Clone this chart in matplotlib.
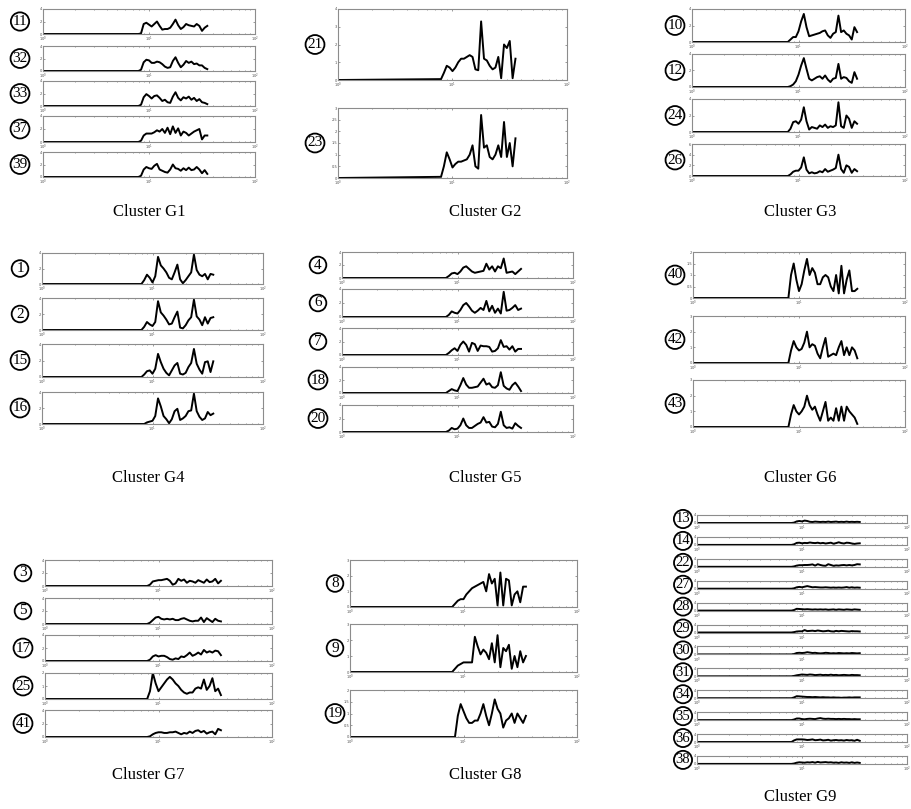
import matplotlib
matplotlib.use("Agg")
import matplotlib.pyplot as plt
from matplotlib.ticker import LogLocator, NullFormatter, FixedLocator

# frequency grid (shared by all curves), log axis 10^0 .. 10^2
freq = [1.0, 7.94, 8.41, 8.91, 9.44, 10.0, 10.59, 11.22, 11.89, 12.59, 13.34, 14.13,
        14.96, 15.85, 16.79, 17.78, 18.84, 19.95, 21.13, 22.39, 23.71, 25.12, 26.61,
        28.18, 29.85, 31.62, 33.5, 35.48]

# Cluster G1
s11 = [0, 0, 0.1, 1.6, 1.8, 1.5, 1.2, 1.6, 2.0, 1.3, 0.7, 0.8, 0.8, 1.0, 1.6, 2.3, 1.4, 0.8, 1.1, 1.6, 1.4, 1.3, 1.2, 1.6, 1.3, 0.5, 1.0, 1.3]
s32 = [0, 0, 0.2, 1.4, 1.8, 1.7, 1.3, 1.3, 1.5, 1.4, 1.1, 0.7, 0.5, 0.6, 1.6, 2.2, 1.3, 0.6, 1.0, 1.6, 1.3, 1.5, 1.1, 1.2, 0.9, 0.9, 0.5, 0.3]
s33 = [0, 0, 0.2, 1.4, 1.9, 1.6, 1.2, 1.6, 1.7, 1.3, 0.8, 1.0, 0.6, 0.5, 1.5, 2.2, 1.3, 0.9, 1.4, 1.2, 1.5, 1.0, 1.3, 0.8, 1.1, 0.6, 0.5, 0.3]
s37 = [0, 0, 0.2, 1.0, 1.3, 1.3, 1.3, 1.5, 1.8, 1.6, 2.0, 1.4, 2.2, 1.2, 2.4, 1.4, 2.1, 1.0, 1.6, 1.4, 1.0, 1.3, 1.6, 1.8, 2.0, 0.4, 1.0, 1.0]
s39 = [0, 0, 0.2, 1.2, 1.6, 1.4, 1.3, 1.8, 2.1, 1.2, 1.0, 0.8, 0.7, 1.2, 2.0, 1.4, 1.3, 1.0, 1.4, 1.1, 1.5, 1.1, 1.2, 1.6, 1.2, 0.6, 1.1, 0.5]

# Cluster G2
s21 = [0, 0.05, 0.4, 0.8, 0.7, 0.5, 0.7, 1.0, 1.2, 1.2, 1.3, 1.4, 1.3, 0.6, 0.55, 3.3, 1.2, 1.1, 0.8, 0.6, 0.7, 1.3, 0.1, 2.0, 1.8, 2.2, 0.1, 1.2]
s23 = [0, 0.05, 0.5, 1.1, 0.8, 0.45, 0.6, 0.7, 0.7, 0.75, 0.8, 1.0, 1.4, 0.5, 0.4, 2.7, 1.3, 1.4, 0.9, 0.8, 1.0, 1.4, 0.9, 2.4, 0.9, 1.5, 0.5, 1.7]

# Cluster G3
s10 = [0, 0, 0.3, 0.6, 0.6, 1.3, 2.5, 3.4, 1.8, 0.7, 0.8, 0.9, 1.0, 1.1, 1.3, 1.4, 0.8, 0.5, 1.0, 1.2, 3.2, 1.2, 1.4, 1.0, 0.8, 0.3, 1.8, 1.2]
s12 = [0, 0, 0.1, 0.3, 0.7, 1.5, 2.6, 3.5, 2.2, 1.0, 0.8, 1.0, 1.2, 1.3, 1.0, 1.4, 0.9, 0.6, 1.0, 1.1, 2.8, 1.0, 1.2, 1.1, 0.7, 0.5, 1.8, 1.0]
s24 = [0, 0, 0.4, 1.2, 1.3, 1.0, 1.5, 3.0, 1.3, 0.3, 0.6, 0.5, 0.4, 0.8, 0.6, 0.9, 0.5, 0.7, 0.6, 0.8, 3.6, 0.7, 0.5, 2.0, 1.6, 0.5, 1.3, 1.0]
s26 = [0, 0, 0.3, 0.8, 1.0, 1.0, 1.6, 3.5, 1.2, 0.5, 0.7, 0.5, 0.6, 0.9, 0.7, 1.3, 0.8, 1.0, 1.2, 1.5, 4.0, 1.3, 0.6, 2.0, 1.7, 0.6, 1.3, 0.9]

# Cluster G4
s1 = [0, 0, 0.5, 1.2, 0.8, 0.2, 1.0, 3.5, 2.4, 2.0, 1.5, 0.8, 0.6, 1.5, 2.5, 0.6, 0.1, 0.5, 1.0, 1.5, 3.8, 1.8, 1.2, 1.0, 1.3, 0.6, 1.3, 1.2]
s2 = [0, 0, 0.4, 1.0, 0.7, 0.5, 1.0, 3.6, 2.2, 1.8, 1.3, 0.7, 0.8, 1.6, 2.3, 0.3, 0.2, 0.6, 1.2, 1.6, 3.8, 1.7, 1.3, 0.6, 1.6, 0.8, 1.5, 1.6]
s15 = [0, 0, 0.3, 0.7, 0.8, 0.4, 1.0, 2.8, 1.8, 1.0, 0.5, 0.2, 0.8, 1.4, 1.7, 0.4, 0.3, 0.5, 1.2, 1.7, 3.4, 1.6, 0.9, 0.4, 1.8, 1.9, 0.6, 1.9]
s16 = [0, 0, 0.0, 0.2, 0.3, 0.4, 1.0, 3.2, 2.2, 1.0, 0.6, 0.1, 0.6, 1.6, 1.9, 0.5, 0.7, 1.0, 1.6, 1.7, 3.8, 1.6, 0.9, 0.5, 0.7, 1.5, 1.1, 1.3]

# Cluster G5
s4 = [0, 0, 0.3, 0.7, 0.8, 0.6, 1.0, 1.6, 1.8, 1.4, 1.0, 0.8, 0.9, 1.0, 1.1, 2.2, 1.3, 1.8, 1.0, 1.8, 1.5, 3.0, 0.8, 0.9, 1.0, 0.6, 1.0, 1.4]
s6 = [0, 0, 0.3, 0.8, 0.6, 0.5, 1.0, 1.7, 2.0, 1.5, 0.9, 0.6, 0.9, 1.3, 1.0, 2.3, 0.8, 1.6, 0.6, 1.2, 0.5, 3.6, 0.9, 1.0, 1.3, 1.7, 1.0, 1.2]
s7 = [0, 0, 0.3, 0.7, 1.0, 0.6, 1.5, 2.0, 1.5, 0.5, 1.8, 1.6, 0.6, 1.4, 1.3, 1.3, 1.2, 0.5, 0.6, 1.0, 2.2, 1.2, 1.3, 0.8, 1.3, 0.5, 0.9, 0.9]
s18 = [0, 0, 0.3, 0.6, 0.4, 0.3, 1.2, 2.3, 1.3, 0.8, 0.8, 0.9, 1.0, 1.6, 2.2, 1.3, 1.5, 0.9, 0.8, 1.2, 3.2, 1.1, 0.7, 0.5, 1.2, 1.6, 1.0, 0.3]
s20 = [0, 0, 0.2, 0.6, 0.4, 0.5, 1.0, 2.0, 1.0, 0.6, 0.6, 0.9, 1.2, 1.4, 2.2, 1.4, 1.5, 0.8, 0.7, 1.2, 3.0, 1.0, 0.6, 0.7, 0.5, 1.3, 0.9, 0.6]

# Cluster G6
s40 = [0, 0, 1.0, 1.5, 0.8, 0.3, 0.6, 1.2, 1.7, 1.0, 1.3, 1.1, 0.6, 0.6, 0.9, 1.0, 0.9, 0.5, 0.3, 1.0, 0.2, 1.4, 0.2, 0.8, 1.2, 0.3, 0.3, 0.4]
s42 = [0, 0, 0.8, 1.4, 1.0, 0.8, 0.9, 1.3, 2.0, 1.0, 1.2, 1.1, 0.6, 0.3, 1.0, 1.6, 0.4, 0.5, 0.6, 0.5, 1.0, 1.4, 0.5, 1.0, 0.5, 1.0, 0.8, 0.3]
s43 = [0, 0, 0.8, 1.4, 1.0, 0.8, 1.0, 1.3, 2.0, 1.4, 1.1, 1.3, 0.8, 0.4, 1.0, 1.6, 0.4, 0.6, 0.4, 1.2, 0.4, 1.3, 0.4, 1.3, 1.0, 0.8, 0.6, 0.2]

# Cluster G7
s3 = [0, 0, 0.2, 0.7, 0.8, 0.9, 0.9, 1.0, 1.1, 0.8, 0.2, 0.4, 1.1, 0.8, 1.0, 0.5, 0.8, 0.7, 0.5, 0.9, 0.7, 0.5, 1.0, 0.6, 0.7, 1.1, 0.4, 0.8]
s5 = [0, 0, 0.2, 0.6, 1.0, 1.1, 0.8, 0.7, 0.8, 0.7, 0.8, 0.6, 0.6, 0.8, 0.9, 0.7, 0.5, 0.4, 0.5, 0.5, 1.0, 0.3, 0.9, 0.6, 0.3, 0.8, 0.5, 0.4]
s17 = [0, 0, 0.2, 0.7, 0.9, 0.7, 0.8, 0.8, 0.6, 0.3, 0.2, 0.4, 0.3, 0.7, 0.6, 0.9, 1.3, 0.8, 1.0, 1.3, 1.0, 1.7, 1.3, 1.5, 1.3, 1.6, 1.5, 0.9]
s25 = [0, 0, 0.6, 2.0, 1.2, 0.6, 0.9, 1.2, 1.5, 1.7, 1.5, 1.2, 1.0, 0.7, 0.5, 0.4, 0.5, 0.5, 0.8, 0.9, 0.8, 1.5, 0.7, 1.0, 1.6, 0.6, 0.8, 0.3]
s41 = [0, 0, 0.1, 0.4, 0.6, 0.7, 0.7, 0.6, 0.6, 0.7, 0.7, 0.8, 0.6, 0.4, 0.6, 0.5, 0.8, 0.6, 0.9, 1.0, 0.7, 0.9, 0.5, 0.7, 0.8, 0.4, 1.2, 1.0]

# Cluster G8
s8 = [0, 0, 0.2, 0.4, 0.5, 0.5, 0.8, 1.0, 1.2, 1.3, 1.4, 1.5, 1.6, 1.0, 2.1, 1.5, 1.8, 0.1, 2.2, 0.1, 1.8, 1.7, 0.1, 0.8, 1.0, 0.3, 1.3, 1.3]
s9 = [0, 0, 0.2, 0.4, 0.5, 0.6, 0.6, 0.6, 0.6, 2.2, 1.6, 1.1, 1.4, 1.2, 0.8, 1.8, 0.6, 2.3, 0.3, 1.5, 1.3, 1.7, 0.2, 1.0, 0.3, 1.3, 0.6, 1.0]
s19 = [0, 0, 0.0, 0.9, 1.4, 1.1, 0.8, 0.6, 0.6, 0.7, 0.7, 1.0, 1.4, 0.9, 0.5, 1.0, 1.6, 1.2, 1.0, 0.4, 0.7, 0.8, 1.0, 0.6, 1.0, 0.8, 0.6, 0.9]

# Cluster G9
s13 = [0, 0, 0.2, 0.8, 1.0, 0.8, 1.2, 1.0, 0.6, 0.5, 0.7, 0.6, 0.5, 0.6, 0.5, 0.7, 0.5, 0.6, 0.7, 0.5, 0.6, 0.5, 0.7, 0.5, 0.6, 0.5, 0.6, 0.5]
s14 = [0, 0, 0.3, 1.0, 1.1, 0.8, 1.0, 0.9, 1.2, 1.0, 0.9, 1.1, 0.8, 1.0, 0.7, 0.9, 1.1, 0.6, 0.9, 1.3, 0.9, 0.7, 1.1, 1.0, 0.7, 0.5, 0.7, 0.8]
s22 = [0, 0, 0.2, 0.6, 0.8, 0.8, 0.9, 0.9, 1.0, 1.2, 0.6, 1.3, 0.9, 0.6, 0.5, 1.3, 0.9, 0.5, 0.7, 0.6, 0.8, 0.9, 0.7, 0.9, 0.7, 0.9, 1.3, 1.2]
s27 = [0, 0, 0.2, 0.7, 0.9, 0.7, 1.0, 1.3, 1.0, 0.7, 0.8, 0.7, 0.6, 0.6, 0.7, 0.6, 0.5, 0.6, 0.5, 0.6, 0.5, 0.6, 0.8, 0.5, 0.7, 0.5, 0.6, 0.5]
s28 = [0, 0, 0.3, 0.9, 0.8, 0.7, 0.6, 0.7, 0.6, 0.5, 0.6, 0.5, 0.6, 0.5, 0.6, 0.4, 0.5, 0.6, 0.4, 0.6, 0.5, 0.4, 0.6, 0.5, 0.4, 0.6, 0.5, 0.4]
s29 = [0, 0, 0.2, 0.5, 0.6, 0.6, 1.2, 0.7, 0.8, 0.9, 0.7, 1.0, 0.8, 0.6, 0.7, 0.9, 0.6, 0.5, 0.8, 0.6, 0.8, 0.7, 0.6, 0.5, 0.7, 0.6, 0.6, 0.5]
s30 = [0, 0, 0.2, 0.7, 0.8, 0.7, 0.8, 1.1, 0.9, 0.7, 0.8, 0.6, 0.5, 0.6, 0.8, 0.7, 0.5, 0.6, 0.5, 0.7, 0.6, 0.5, 0.6, 0.5, 0.7, 0.6, 0.5, 0.6]
s31 = [0, 0, 0.2, 0.5, 0.7, 0.9, 0.8, 0.7, 0.9, 0.8, 0.6, 0.7, 0.8, 0.6, 0.7, 0.6, 0.8, 0.6, 0.7, 0.5, 0.6, 0.7, 0.6, 0.5, 0.7, 0.6, 0.6, 0.5]
s34 = [0, 0, 0.4, 1.0, 0.9, 0.8, 0.7, 0.6, 0.6, 0.5, 0.6, 0.5, 0.4, 0.5, 0.4, 0.4, 0.3, 0.4, 0.3, 0.3, 0.2, 0.3, 0.3, 0.4, 0.3, 0.4, 0.4, 0.4]
s35 = [0, 0, 0.3, 0.8, 0.8, 0.5, 0.4, 0.6, 0.7, 0.6, 0.5, 0.8, 1.0, 0.7, 0.6, 0.7, 0.6, 0.6, 0.5, 0.6, 0.5, 0.6, 0.5, 0.5, 0.4, 0.5, 0.4, 0.4]
s36 = [0, 0, 0.8, 1.3, 1.3, 1.3, 1.2, 1.0, 1.1, 1.3, 0.9, 1.0, 1.2, 0.8, 0.9, 1.1, 0.7, 0.9, 1.0, 0.8, 0.9, 0.7, 1.0, 0.8, 0.9, 0.6, 1.1, 0.6]
s38 = [0, 0, 0.2, 0.6, 0.8, 0.7, 0.6, 0.8, 0.7, 0.9, 0.6, 1.0, 0.7, 0.8, 0.9, 0.7, 0.8, 0.6, 0.7, 0.5, 0.8, 0.6, 0.7, 0.5, 0.8, 0.5, 0.7, 0.5]

W, H = 911, 809
SERIF = ["Liberation Serif", "DejaVu Serif"]

# layout in pixels: caption, left, right, caption (x, y), label x,
# panels: (label, series, top, height, ymax, ystep)
clusters = [
    ("Cluster G1", 43, 255, (149, 212), 20, [
        ("11", s11, 9, 25, 4, 2), ("32", s32, 46, 25, 4, 2), ("33", s33, 81, 25, 4, 2),
        ("37", s37, 116, 26, 4, 2), ("39", s39, 152, 25, 4, 2)]),
    ("Cluster G2", 338, 567, (485, 212), 315, [
        ("21", s21, 9, 71, 4, 1), ("23", s23, 108, 70, 3, 0.5)]),
    ("Cluster G3", 692, 905, (800, 212), 675, [
        ("10", s10, 9, 33, 4, 2), ("12", s12, 54, 33, 4, 2), ("24", s24, 99, 33, 4, 2),
        ("26", s26, 144, 32, 6, 2)]),
    ("Cluster G4", 42, 263, (148, 478), 20, [
        ("1", s1, 253, 31, 4, 2), ("2", s2, 298, 32, 4, 2), ("15", s15, 344, 33, 4, 2),
        ("16", s16, 392, 32, 4, 2)]),
    ("Cluster G5", 342, 573, (485, 478), 318, [
        ("4", s4, 252, 26, 4, 2), ("6", s6, 289, 28, 4, 2), ("7", s7, 328, 27, 4, 2),
        ("18", s18, 367, 26, 4, 2), ("20", s20, 405, 27, 4, 2)]),
    ("Cluster G6", 693, 905, (800, 478), 675, [
        ("40", s40, 252, 46, 2, 0.5), ("42", s42, 316, 47, 3, 1), ("43", s43, 380, 47, 3, 1)]),
    ("Cluster G7", 45, 272, (148, 775), 23, [
        ("3", s3, 560, 26, 4, 2), ("5", s5, 598, 26, 4, 2), ("17", s17, 635, 26, 4, 2),
        ("25", s25, 673, 26, 2, 1), ("41", s41, 710, 27, 4, 2)]),
    ("Cluster G8", 350, 577, (485, 775), 335, [
        ("8", s8, 560, 47, 3, 1), ("9", s9, 624, 48, 3, 1), ("19", s19, 690, 47, 2, 0.5)]),
    ("Cluster G9", 697, 907, (800, 797), 683, [
        (lab, s, 515 + 21.9 * i, 8, 4, 4) for i, (lab, s) in enumerate([
            ("13", s13), ("14", s14), ("22", s22), ("27", s27), ("28", s28), ("29", s29),
            ("30", s30), ("31", s31), ("34", s34), ("35", s35), ("36", s36), ("38", s38)])]),
]

fig = plt.figure(figsize=(W / 100, H / 100), dpi=100)
fig.patch.set_facecolor("white")

for caption, left, right, (cx, cy), lx, panels in clusters:
    for lab, y, top, h, ymax, ystep in panels:
        ax = fig.add_axes([left / W, 1 - (top + h) / H, (right - left) / W, h / H])
        n = min(len(freq), len(y))
        ax.plot(freq[:n], y[:n], color="black", lw=1.4, solid_joinstyle="round")
        ax.set_xscale("log")
        ax.set_xlim(1, 100)
        ax.set_ylim(0, ymax)
        ticks = [ystep * k for k in range(int(round(ymax / ystep)) + 1)]
        ax.yaxis.set_major_locator(FixedLocator(ticks))
        ax.set_yticklabels(["%g" % t for t in ticks])
        ax.xaxis.set_major_locator(LogLocator(base=10, numticks=5))
        ax.xaxis.set_minor_locator(LogLocator(base=10, subs=range(2, 10), numticks=5))
        ax.xaxis.set_minor_formatter(NullFormatter())
        ax.tick_params(which="both", direction="in", top=True, right=True,
                       length=1.5, width=0.5, color="0.45", labelsize=2.6,
                       labelcolor="0.3", pad=0.6)
        ax.tick_params(which="minor", length=1.0)
        for sp in ax.spines.values():
            sp.set_color("0.55")
            sp.set_linewidth(0.8)
        fs = 11 if len(panels) < 10 else 10.5
        fig.text(lx / W, 1 - (top + h / 2) / H, lab, ha="center", va="center",
                 fontsize=fs, family=SERIF,
                 bbox=dict(boxstyle="circle,pad=0.12", fc="white", ec="black", lw=1.3))
    fig.text(cx / W, 1 - cy / H, caption, ha="center", va="center",
             fontsize=12, family=SERIF)

fig.savefig("out.png", dpi=100, facecolor="white")
